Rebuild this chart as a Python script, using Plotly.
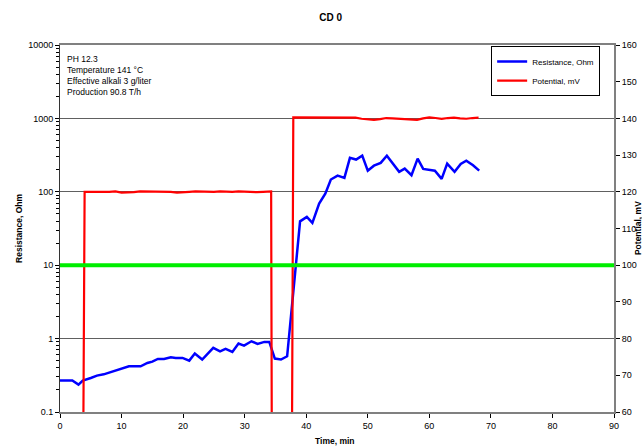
import plotly.graph_objects as go

# ---- data ----
time_res = [0, 2, 3, 3.7, 5, 6, 7.1, 8.7, 10.1, 11.2,
            13.1, 14.2, 15, 15.9, 16.9, 18, 18.8, 19.9, 21, 21.9,
            23.1, 24.9, 26, 26.9, 28, 29, 29.9, 31.1, 32.1, 33.2,
            34, 34.9, 35.9, 36.9, 39, 40.1, 41, 42.1, 43.1, 44,
            45.1, 46.2, 47.1, 48.1, 49.1, 50, 51, 52.1, 53.1, 54,
            55.1, 56, 57.1, 58.1, 59, 60.9, 62, 62.9, 64.1, 65.1,
            66, 67.1, 68.1]
resistance = [0.268, 0.268, 0.236, 0.268, 0.291, 0.313, 0.326, 0.359, 0.399, 0.419,
              0.419, 0.466, 0.486, 0.529, 0.529, 0.556, 0.546, 0.546, 0.501, 0.625,
              0.518, 0.747, 0.671, 0.724, 0.659, 0.855, 0.803, 0.919, 0.847, 0.902,
              0.902, 0.534, 0.518, 0.574, 39.6, 45.5, 37.7, 69, 94.5, 147,
              166, 155, 290, 275, 311, 194, 227, 248, 311, 248,
              187, 207, 168, 283, 205, 194, 150, 242, 187, 240,
              266, 230, 194]

time_pot = [3.8, 4, 5, 6, 7, 8, 9, 10, 11, 12, 13, 14, 15, 16, 17, 18, 19, 20,
            21, 22, 23, 24, 25, 26, 27, 28, 29, 30, 31, 32, 33, 34.3, 34.4,
            37.7, 37.9, 40, 42, 44, 46, 48, 49, 50, 51, 52, 53, 54, 55, 56, 57,
            58, 59, 60, 61, 62, 63, 64, 65, 66, 67, 68]
potential = [58, 120.0, 120.0, 120.1, 120.0, 120.0, 120.1, 119.8, 119.8, 119.9,
             120.1, 120.1, 120.1, 120.0, 120.1, 120.0, 119.8, 119.8, 120.0, 120.1,
             120.0, 120.1, 120.0, 120.1, 120.0, 120.0, 120.1, 120.0, 120.0, 119.9,
             120.0, 120.1, 58, 58, 140.3, 140.3, 140.3, 140.4, 140.4, 140.2,
             139.9, 139.8, 139.6, 139.8, 140.1, 140.0, 139.9, 139.9, 139.7, 139.6,
             140.0, 140.3, 140.1, 139.9, 140.1, 140.2, 140.0, 139.9, 140.1, 140.2]

threshold_resistance = 10
info_lines = ["PH 12.3", "Temperature 141 °C", "Effective alkali 3 g/liter", "Production 90.8 T/h"]

FONT = "Liberation Sans, Arial, sans-serif"

fig = go.Figure()
fig.add_trace(go.Scatter(x=time_res, y=resistance, mode="lines", name="Resistance, Ohm",
                         line=dict(color="#0000FF", width=2.5), yaxis="y"))
fig.add_trace(go.Scatter(x=time_pot, y=potential, mode="lines", name="Potential, mV",
                         line=dict(color="#FF0000", width=2.2), yaxis="y2"))

fig.add_shape(type="line", xref="paper", x0=0, x1=1, yref="y", y0=threshold_resistance,
              y1=threshold_resistance, line=dict(color="#00EE00", width=4), layer="above")

tick_common = dict(tickcolor="black", tickwidth=1)

fig.update_layout(
    width=642, height=448,
    margin=dict(l=59.5, r=28, t=45, b=36, autoexpand=False),
    paper_bgcolor="white", plot_bgcolor="white",
    font=dict(family=FONT, size=9, color="black"),
    title=dict(text="<b>CD 0</b>", x=0.515, xanchor="center", y=0.962, yanchor="middle",
               yref="container", font=dict(size=10)),
    showlegend=True,
    legend=dict(x=0.975, y=0.997, xanchor="right", yanchor="top", bgcolor="white",
                bordercolor="black", borderwidth=1, font=dict(size=8),
                tracegroupgap=0, itemwidth=30),
    xaxis=dict(range=[0, 90], dtick=10, tick0=0, showgrid=False, zeroline=False,
               showline=True, linecolor="#808080", linewidth=2, mirror=True,
               ticks="outside", ticklen=4, **tick_common),
    xaxis2=dict(range=[0, 90], dtick=10, tick0=0, overlaying="x", anchor="y", side="bottom",
                showgrid=False, zeroline=False, showline=False, showticklabels=False,
                ticks="inside", ticklen=4, **tick_common),
    yaxis=dict(type="log", range=[-1, 4], dtick=1, tickformat="~g", showgrid=True,
               gridcolor="#606060", gridwidth=1, zeroline=False,
               showline=True, linecolor="#333333", linewidth=1,
               ticks="outside", ticklen=4, **tick_common,
               minor=dict(ticks="outside", ticklen=3, tickcolor="black", dtick="D1", showgrid=False)),
    yaxis3=dict(type="log", range=[-1, 4], dtick=1, overlaying="y", anchor="x", side="left",
                showgrid=False, zeroline=False, showline=False, showticklabels=False,
                ticks="inside", ticklen=3, **tick_common,
                minor=dict(ticks="inside", ticklen=3, tickcolor="black", dtick="D1", showgrid=False)),
    yaxis2=dict(range=[60, 160], dtick=10, overlaying="y", side="right", showgrid=False,
                zeroline=False, showline=True, linecolor="#808080", linewidth=2,
                ticks="outside", ticklen=4, **tick_common),
    yaxis4=dict(range=[60, 160], dtick=10, overlaying="y", anchor="x", side="right", showgrid=False,
                zeroline=False, showline=False, showticklabels=False,
                ticks="inside", ticklen=4, **tick_common),
)

fig.add_annotation(text="<br>".join(info_lines), xref="paper", yref="paper", x=0.009, y=0.982,
                   xanchor="left", yanchor="top", align="left", showarrow=False,
                   font=dict(size=8.5))
fig.add_annotation(text="<b>Resistance, Ohm</b>", xref="paper", yref="paper", x=-0.075, y=0.5,
                   textangle=-90, showarrow=False, xanchor="center", yanchor="middle", font=dict(size=8.5))
fig.add_annotation(text="<b>Potential, mV</b>", xref="paper", yref="paper", x=1.0425, y=0.5,
                   textangle=-90, showarrow=False, xanchor="center", yanchor="middle", font=dict(size=8.5))
fig.add_annotation(text="<b>Time, min</b>", xref="paper", yref="paper", x=0.497, y=-0.079,
                   showarrow=False, xanchor="center", yanchor="middle", font=dict(size=8.5))

fig.write_html("out.html", config={"displayModeBar": False},
               post_script="document.body.style.margin='0';")
